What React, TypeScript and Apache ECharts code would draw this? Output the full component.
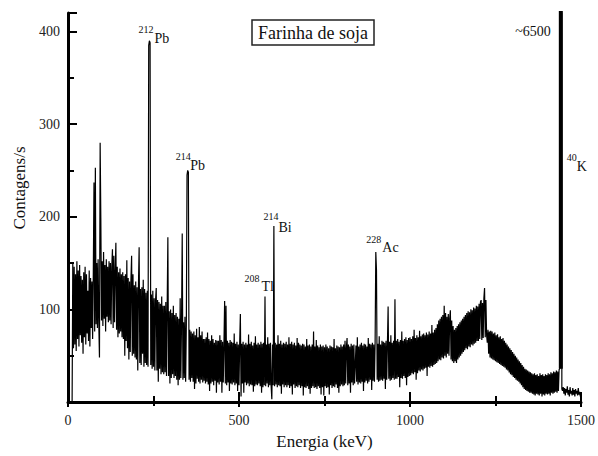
import React, { useEffect, useRef } from "react";
import * as echarts from "echarts";

// Channel width of the spectrum (keV per value)
const ENERGY_STEP_KEV = 2;

// Counts per second, one value per 2 keV channel (0 .. 1498 keV)
const counts: number[] = [
  0, 0, 0, 0, 0, 0, 0, 150, 58, 146, 62, 138, 55, 152, 68, 142, 60, 148, 72, 136,
  64, 132, 52, 140, 70, 146, 62, 138, 74, 120, 66, 142, 60, 134, 80, 130, 68, 140, 237, 76,
  253, 84, 150, 80, 154, 86, 48, 280, 198, 88, 152, 82, 162, 90, 148, 76, 154, 92, 146, 86,
  152, 88, 150, 84, 146, 165, 80, 158, 86, 142, 172, 78, 146, 70, 140, 74, 144, 76, 138, 70,
  140, 68, 136, 50, 138, 66, 153, 58, 134, 46, 130, 54, 132, 158, 50, 138, 52, 126, 48, 130,
  46, 124, 34, 126, 167, 42, 122, 40, 124, 52, 132, 38, 122, 42, 118, 40, 120, 38, 385, 390,
  388, 40, 116, 36, 120, 38, 112, 34, 110, 123, 34, 110, 22, 108, 36, 106, 30, 114, 32, 104,
  30, 104, 32, 108, 28, 102, 178, 28, 98, 20, 100, 26, 96, 30, 104, 26, 94, 28, 96, 24,
  92, 18, 90, 24, 112, 26, 88, 182, 24, 86, 26, 92, 22, 82, 245, 250, 248, 24, 78, 22,
  76, 26, 74, 22, 76, 14, 72, 20, 79, 25, 70, 22, 81, 20, 72, 24, 76, 21, 68, 23,
  68, 20, 70, 22, 75, 19, 68, 12, 66, 20, 72, 22, 68, 18, 64, 23, 67, 10, 66, 21,
  66, 19, 72, 22, 67, 10, 65, 21, 63, 109, 20, 104, 18, 66, 21, 64, 12, 67, 20, 65,
  19, 64, 21, 74, 18, 63, 20, 65, 12, 62, 18, 64, 95, 6, 63, 20, 65, 10, 62, 21,
  64, 18, 62, 20, 73, 17, 63, 19, 65, 18, 61, 11, 64, 17, 71, 19, 62, 18, 64, 20,
  62, 17, 65, 10, 63, 16, 64, 18, 114, 17, 62, 20, 70, 16, 63, 18, 64, 17, 3, 62,
  18, 190, 17, 64, 19, 62, 16, 72, 18, 63, 17, 66, 9, 62, 19, 64, 16, 63, 18, 65,
  16, 62, 18, 70, 15, 63, 17, 65, 8, 62, 19, 64, 15, 61, 17, 69, 16, 64, 18, 62,
  15, 61, 17, 63, 7, 62, 16, 60, 15, 68, 17, 61, 14, 62, 9, 60, 15, 62, 17, 76,
  15, 60, 16, 67, 14, 61, 17, 59, 15, 62, 8, 60, 16, 61, 7, 59, 17, 62, 15, 60,
  16, 58, 8, 61, 18, 60, 15, 59, 17, 68, 16, 58, 19, 61, 15, 60, 10, 59, 17, 62,
  19, 60, 17, 62, 18, 66, 20, 59, 69, 18, 62, 20, 60, 10, 63, 21, 61, 18, 62, 20,
  20, 61, 22, 70, 19, 60, 21, 62, 20, 64, 22, 61, 12, 63, 21, 62, 23, 60, 20, 69,
  22, 63, 24, 62, 13, 64, 23, 62, 22, 64, 162, 142, 24, 63, 22, 71, 23, 62, 24, 66,
  23, 65, 25, 64, 14, 66, 24, 63, 103, 25, 65, 23, 72, 24, 64, 26, 66, 24, 111, 25,
  66, 25, 68, 27, 65, 16, 67, 26, 76, 25, 66, 28, 68, 26, 70, 18, 67, 27, 69, 28,
  70, 29, 68, 31, 71, 30, 78, 32, 69, 24, 72, 31, 70, 34, 77, 33, 71, 35, 73, 34,
  74, 36, 72, 37, 75, 28, 73, 38, 76, 37, 74, 39, 83, 38, 75, 40, 78, 41, 80, 42,
  84, 44, 88, 46, 90, 45, 92, 48, 94, 47, 104, 50, 96, 48, 92, 52, 95, 50, 90, 99,
  46, 88, 44, 82, 42, 78, 44, 80, 42, 82, 46, 84, 48, 86, 50, 88, 52, 90, 54, 92,
  56, 94, 58, 96, 57, 98, 60, 97, 59, 100, 62, 99, 61, 102, 63, 101, 64, 104, 66, 103,
  66, 106, 68, 108, 110, 67, 107, 69, 112, 123, 70, 110, 72, 64, 78, 52, 76, 48, 77, 47,
  76, 46, 74, 45, 75, 44, 72, 43, 73, 42, 70, 41, 71, 40, 68, 39, 69, 38, 66, 37,
  64, 35, 62, 34, 60, 32, 58, 30, 56, 29, 54, 27, 52, 26, 50, 24, 48, 23, 46, 22,
  44, 20, 42, 18, 40, 16, 38, 14, 36, 13, 35, 12, 34, 11, 33, 10, 32, 10, 31, 9,
  30, 8, 31, 7, 29, 9, 30, 8, 28, 7, 31, 9, 29, 6, 30, 8, 28, 7, 30, 9,
  29, 8, 31, 9, 30, 7, 32, 10, 31, 9, 33, 10, 32, 11, 34, 10, 33, 12, 35, 36,
  6500, 6500, 14, 12, 16, 9, 15, 7, 14, 10, 17, 8, 13, 6, 16, 9, 12, 7, 15, 8,
  13, 6, 14, 9, 12, 7, 15, 8, 11, 6,
];

// Axes
const xMin = 0;
const xMax = 1500;
const xInterval = 500;
const yMin = 0;
const yMax = 420;
const yInterval = 100;

// Peak annotations
const peakMass = ["212", "214", "214", "208", "228"];
const peakElement = ["Pb", "Pb", "Bi", "Tl", "Ac"];
const peakEnergy = [238, 350, 602, 576, 900];
const peakCount = [390, 250, 190, 114, 162];

const potassiumMass = "40";
const potassiumElement = "K";
const potassiumEnergy = 1441;
const potassiumBase = 36;
const potassiumCount = 6500;
const potassiumNote = "~6500";

const sampleName = "Farinha de soja";
const xName = "Energia (keV)";
const yName = "Contagens/s";

// Label offsets in pixels from each peak top: [massDx, massDy, elemDx, elemDy]
const labelOffsets: number[][] = [
  [-11, -11, 5, -2],
  [-12, -14, 2.5, -4.5],
  [-10.5, -9.5, 4.5, 1],
  [-20.5, -18, -3.5, -9.5],
  [-9.5, -12, 6.5, -4],
];

const FONT = "Liberation Serif";
const INK = "#111";

export default function App() {
  const ref = useRef<HTMLDivElement>(null);

  useEffect(() => {
    if (!ref.current) return;
    const chart = echarts.init(ref.current, undefined, { renderer: "svg" });

    const spectrum = counts.map((c, i) => [i * ENERGY_STEP_KEV, c]);

    const axisLine = { show: true, lineStyle: { color: "#000", width: 3 } };
    const tickText = { fontFamily: FONT, fontSize: 14, fontWeight: "normal", color: "#222" };

    chart.setOption({
      animation: false,
      backgroundColor: "#fff",
      textStyle: { fontFamily: FONT },
      title: {
        text: sampleName,
        left: 252,
        top: 20,
        borderWidth: 1.5,
        borderColor: "#222",
        padding: [4, 6, 3, 6],
        textStyle: { fontFamily: FONT, fontSize: 18, fontWeight: "normal", color: INK },
      },
      grid: { left: 68, right: 16, top: 13, bottom: 54 },
      xAxis: [
        {
          type: "value",
          min: xMin,
          max: xMax,
          interval: xInterval,
          name: xName,
          nameLocation: "middle",
          nameGap: 31,
          nameTextStyle: { fontFamily: FONT, fontSize: 17, fontWeight: "normal", color: INK },
          axisLine,
          axisTick: { show: true, inside: true, length: 10, lineStyle: { color: "#000", width: 2 } },
          minorTick: { show: true, splitNumber: 2, length: 6, lineStyle: { color: "#000", width: 2 } },
          axisLabel: { ...tickText, margin: 11, formatter: (v: number) => String(v) },
          splitLine: { show: false },
        },
        {
          type: "value",
          min: xMin,
          max: xMax,
          interval: xInterval,
          position: "bottom",
          axisLine: { show: false },
          axisTick: { show: true, inside: false, length: 5, lineStyle: { color: "#000", width: 2 } },
          minorTick: { show: true, splitNumber: 2, length: 4, lineStyle: { color: "#000", width: 2 } },
          axisLabel: { show: false },
          splitLine: { show: false },
        },
      ],
      yAxis: {
        type: "value",
        min: yMin,
        max: yMax,
        interval: yInterval,
        axisLine,
        axisTick: { show: true, inside: true, length: 9, lineStyle: { color: "#000", width: 2 } },
        minorTick: { show: true, splitNumber: 2, length: 6, lineStyle: { color: "#000", width: 2 } },
        axisLabel: {
          ...tickText,
          margin: 8,
          showMaxLabel: false,
          formatter: (v: number) => (v === 0 || v % yInterval !== 0 ? "" : String(v)),
        },
        splitLine: { show: false },
      },
      series: [
        {
          type: "line",
          xAxisIndex: 0,
          data: spectrum,
          showSymbol: false,
          symbol: "none",
          clip: true,
          lineStyle: { color: "#000", width: 1.2 },
        },
        {
          type: "line",
          xAxisIndex: 0,
          data: [
            [potassiumEnergy, potassiumBase],
            [potassiumEnergy, potassiumCount],
          ],
          showSymbol: false,
          symbol: "none",
          clip: true,
          lineStyle: { color: "#000", width: 4 },
        },
      ],
    });

    const px = (e: number, c: number) =>
      chart.convertToPixel({ xAxisIndex: 0, yAxisIndex: 0 }, [e, c]) as number[];

    const txt = (x: number, y: number, text: string, size: number, align = "left", rotation = 0) => ({
      type: "text",
      x,
      y,
      rotation,
      style: {
        text,
        fontFamily: FONT,
        fontSize: size,
        fontWeight: "normal",
        fill: INK,
        align,
        verticalAlign: "middle",
      },
    });

    const graphics: any[] = [];
    peakEnergy.forEach((e, i) => {
      const [x, y] = px(e, peakCount[i]);
      const o = labelOffsets[i];
      graphics.push(txt(x + o[0], y + o[1], peakMass[i], 10));
      graphics.push(txt(x + o[2], y + o[3], peakElement[i], 14));
    });

    const [kx, ktop] = px(potassiumEnergy, yMax);
    graphics.push(txt(kx + 6, ktop + 144, potassiumMass, 10));
    graphics.push(txt(kx + 16, ktop + 153, potassiumElement, 14));
    graphics.push(txt(kx - 10, ktop + 18, potassiumNote, 14, "right"));
    graphics.push(txt(19.5, 188, yName, 17, "center", Math.PI / 2));

    chart.setOption({ graphic: graphics });

    return () => chart.dispose();
  }, []);

  return <div ref={ref} style={{ width: 598, height: 456, position: "absolute", left: 0, top: 0 }} />;
}
